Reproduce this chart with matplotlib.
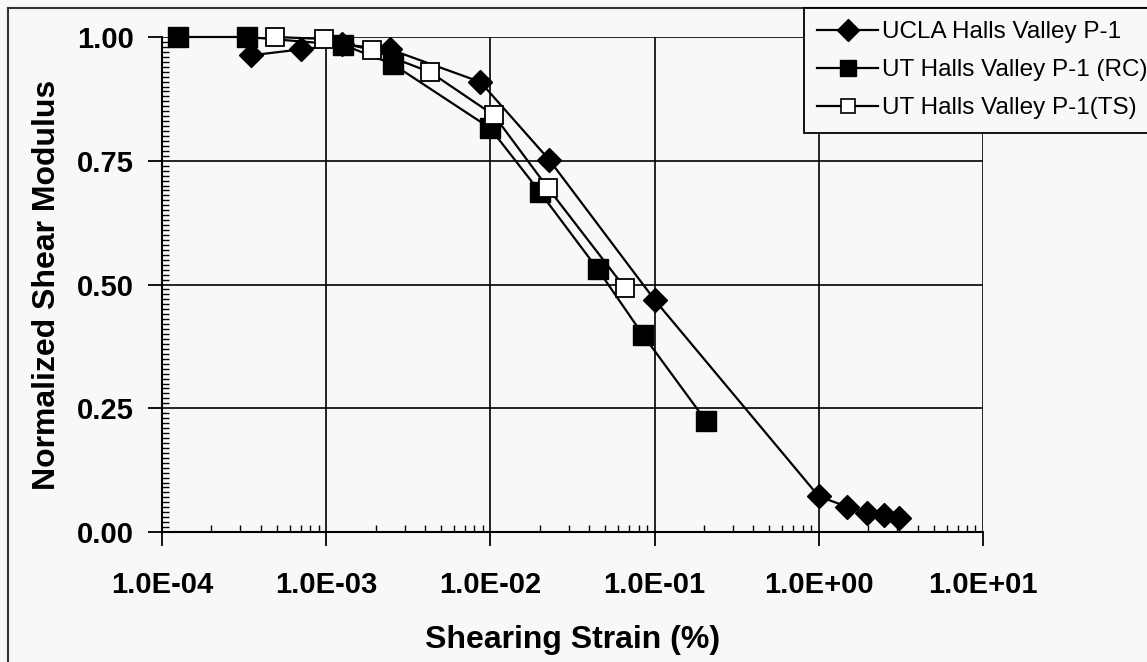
import matplotlib
matplotlib.use("Agg")
import matplotlib.pyplot as plt
from matplotlib.ticker import LogLocator, MultipleLocator, FixedLocator
from matplotlib.lines import Line2D

plt.rcParams['font.family'] = ['Liberation Sans', 'DejaVu Sans']

# UCLA Halls Valley P-1
ucla_strain = [3.5e-4, 7e-4, 1.25e-3, 2.45e-3, 8.7e-3, 0.0228, 0.1, 1.0, 1.49, 1.97, 2.5, 3.1]
ucla_mod = [0.963, 0.975, 0.985, 0.975, 0.909, 0.752, 0.469, 0.072, 0.051, 0.038, 0.034, 0.028]

# UT Halls Valley P-1 (RC)
rc_strain = [1.25e-4, 3.3e-4, 1.27e-3, 2.55e-3, 0.00995, 0.02, 0.045, 0.085, 0.206]
rc_mod = [1.0, 1.0, 0.984, 0.945, 0.816, 0.687, 0.531, 0.398, 0.224]

# UT Halls Valley P-1 (TS)
ts_strain = [4.9e-4, 9.7e-4, 1.9e-3, 4.3e-3, 0.0105, 0.0224, 0.066]
ts_mod = [1.0, 0.996, 0.974, 0.929, 0.842, 0.695, 0.493]

x_ticks = [1e-4, 1e-3, 1e-2, 1e-1, 1e0, 1e1]
x_ticklabels = ['1.0E-04', '1.0E-03', '1.0E-02', '1.0E-01', '1.0E+00', '1.0E+01']
y_ticks = [0.0, 0.25, 0.5, 0.75, 1.0]
y_ticklabels = ['0.00', '0.25', '0.50', '0.75', '1.00']

bg = '#f8f8f8'
W, H = 1147, 662
fig = plt.figure(figsize=(W / 100, H / 100), dpi=100, facecolor=bg)
ax = fig.add_axes([162 / W, 1 - 532 / H, (983 - 162) / W, (532 - 37) / H])
ax.set_facecolor(bg)

ax.plot(ucla_strain, ucla_mod, color='black', lw=1.6, marker='D', ms=12,
        mfc='black', mec='black', clip_on=False, zorder=3)
ax.plot(rc_strain, rc_mod, color='black', lw=1.6, marker='s', ms=14,
        mfc='black', mec='black', clip_on=False, zorder=3)
ax.plot(ts_strain, ts_mod, color='black', lw=1.6, marker='s', ms=13.5,
        mfc='white', mec='black', mew=1.3, clip_on=False, zorder=4)

ax.set_xscale('log')
ax.set_xlim(1e-4, 1e1)
ax.set_ylim(0, 1.0)
ax.xaxis.set_major_locator(FixedLocator(x_ticks))
ax.set_xticklabels(x_ticklabels)
ax.xaxis.set_minor_locator(LogLocator(base=10, subs=range(2, 10), numticks=20))
ax.set_yticks(y_ticks)
ax.set_yticklabels(y_ticklabels)
ax.yaxis.set_minor_locator(MultipleLocator(0.01))

ax.tick_params(axis='both', which='major', direction='out', length=10, width=1.3,
               labelsize=21, pad=10)
ax.tick_params(axis='x', which='major', pad=18)
ax.tick_params(axis='both', which='minor', direction='in', length=5, width=1.0)
for lab in ax.get_xticklabels() + ax.get_yticklabels():
    lab.set_fontweight('bold')

ax.grid(True, which='major', color='black', lw=1.2)
for s in ['top', 'right']:
    ax.spines[s].set_visible(False)
for s in ['left', 'bottom']:
    ax.spines[s].set_linewidth(1.5)

ax.set_xlabel('Shearing Strain (%)', fontsize=23, fontweight='bold', labelpad=19)
ax.set_ylabel('Normalized Shear Modulus', fontsize=23, fontweight='bold', labelpad=11)

handles = [
    Line2D([], [], color='black', lw=1.6, marker='D', ms=11, mfc='black', mec='black'),
    Line2D([], [], color='black', lw=1.6, marker='s', ms=11, mfc='black', mec='black'),
    Line2D([], [], color='black', lw=1.6, marker='s', ms=10, mfc='white', mec='black', mew=1.2),
]
labels = ['UCLA Halls Valley P-1', 'UT Halls Valley P-1 (RC)', 'UT Halls Valley P-1(TS)']
leg = fig.legend(handles, labels, loc='upper left', bbox_to_anchor=(804 / W, 1 - 8 / H),
                 fontsize=17.5, frameon=True, fancybox=False, handlelength=2.5,
                 handletextpad=0.15, labelspacing=0.66, borderpad=0.55, borderaxespad=0)
leg._legend_box.align = 'left'
leg.get_frame().set_edgecolor('black')
leg.get_frame().set_linewidth(1.3)
leg.get_frame().set_facecolor(bg)
leg.get_frame().set_alpha(1)

# outer chart border (top and left edges visible)
fig.add_artist(Line2D([8 / W, 1], [1 - 8 / H, 1 - 8 / H], color='#333333', lw=1.5))
fig.add_artist(Line2D([8 / W, 8 / W], [0, 1 - 8 / H], color='#333333', lw=1.5))

fig.savefig('out.png', dpi=100, facecolor=bg)
